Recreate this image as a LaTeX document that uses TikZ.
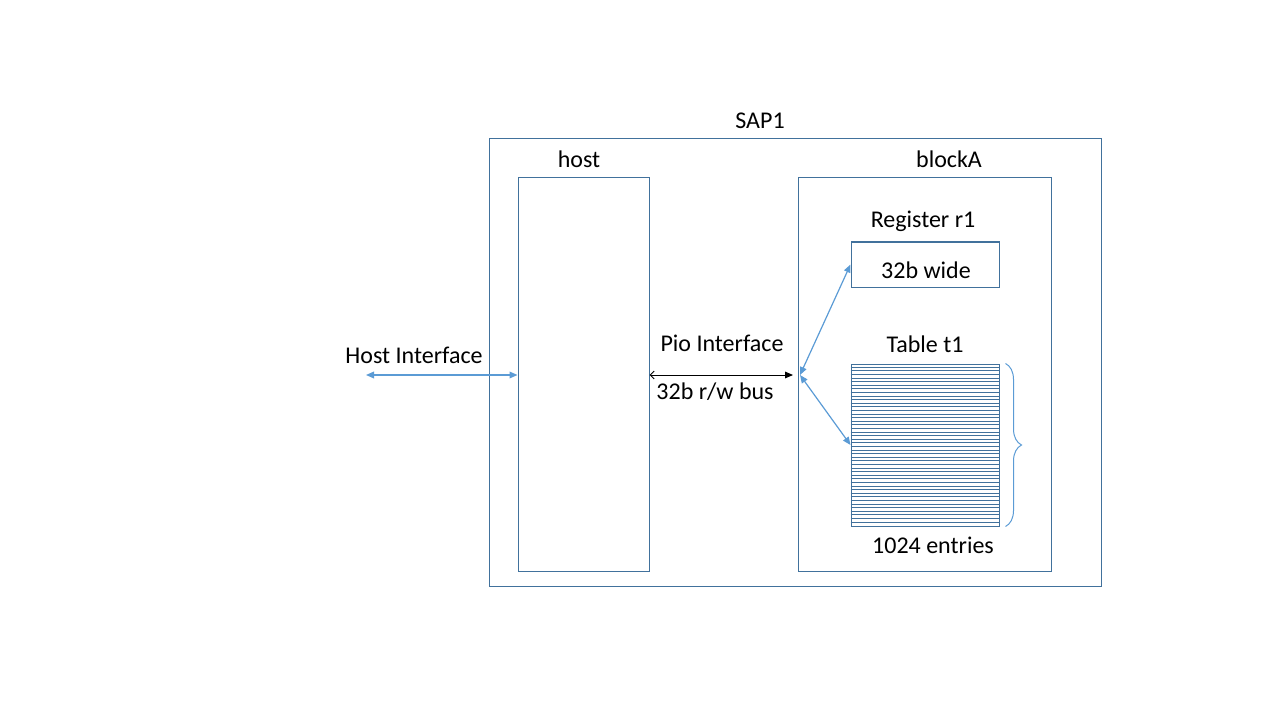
\documentclass[tikz,border=0pt]{standalone}
\usepackage{fontspec}
\setmainfont{Carlito}
\usepackage{xcolor}
\usepackage{tikz}
\usetikzlibrary{arrows.meta,positioning,calc,decorations.pathreplacing}
\definecolor{boxline}{HTML}{41719C}
\definecolor{linkblue}{HTML}{5B9BD5}

\begin{document}
\begin{tikzpicture}[
  x=0.75pt, y=-0.75pt,
  % Styles
  blk/.style={draw=boxline, line width=0.75pt, rectangle, inner sep=0pt},
  lbl/.style={font=\fontsize{18}{21}\selectfont, inner sep=1pt},
  link/.style={linkblue, line width=0.9pt, {Triangle[width=5pt,length=6pt]}-{Triangle[width=5pt,length=6pt]}},
  row/.style={boxline, line width=0.5pt}
]
\useasboundingbox (0,0) rectangle (1280,720);

% --- Boxes ---
\node[blk, minimum width=459pt, minimum height=335.25pt] (sap) at (795,362.5) {};
\node[blk, minimum width=98.25pt, minimum height=294.75pt] (host) at (583.5,374.5) {};
\node[blk, minimum width=189.75pt, minimum height=294.75pt] (blockA) at (924.5,374.5) {};
\node[blk, minimum width=111pt, minimum height=33.75pt] (reg) at (925,264.5) {};
\node[blk, minimum width=111pt, minimum height=121.5pt] (table) at (925,445) {};

% Table rows
\foreach \i in {1,...,44}
  \draw[row] ($(table.north west)+(0,\i*3.6)$) -- ($(table.north east)+(0,\i*3.6)$);

% --- Labels ---
\node[lbl] (saplbl) at (760,121) {SAP1};
\node[lbl] (hostlbl) at (579,159) {host};
\node[lbl] (blocklbl) at (949,159) {blockA};
\node[lbl] (reglbl) at (923,221) {Register r1};
\node[lbl] (regtxt) at (926,270) {32b wide};
\node[lbl] (tbllbl) at (925,344) {Table t1};
\node[lbl] (tbltxt) at (933,545) {1024 entries};
\node[lbl] (hostif) at (414,355) {Host Interface};
\node[lbl] (pioif) at (722,343) {Pio Interface};
\node[lbl] (buslbl) at (715,392) {32b r/w bus};

% --- Connectors ---
\coordinate (hostend) at (366,375);
\coordinate (busend) at (793,375);
\coordinate (fan) at (800,375);
\draw[link] (hostend) -- (host.west |- hostend);
\draw[black, line width=0.75pt, {Straight Barb[width=6pt,length=3pt]}-{Triangle[width=5pt,length=6pt]}]
  (host.east |- busend) -- (busend);
\draw[link] (fan) -- (reg.west);
\draw[link] (fan) -- (table.west);

% Brace
\draw[linkblue, line width=0.75pt, decorate, decoration={brace, amplitude=12pt}]
  ($(table.north east)+(6,0)$) -- ($(table.south east)+(6,0)$);

\end{tikzpicture}
\end{document}
